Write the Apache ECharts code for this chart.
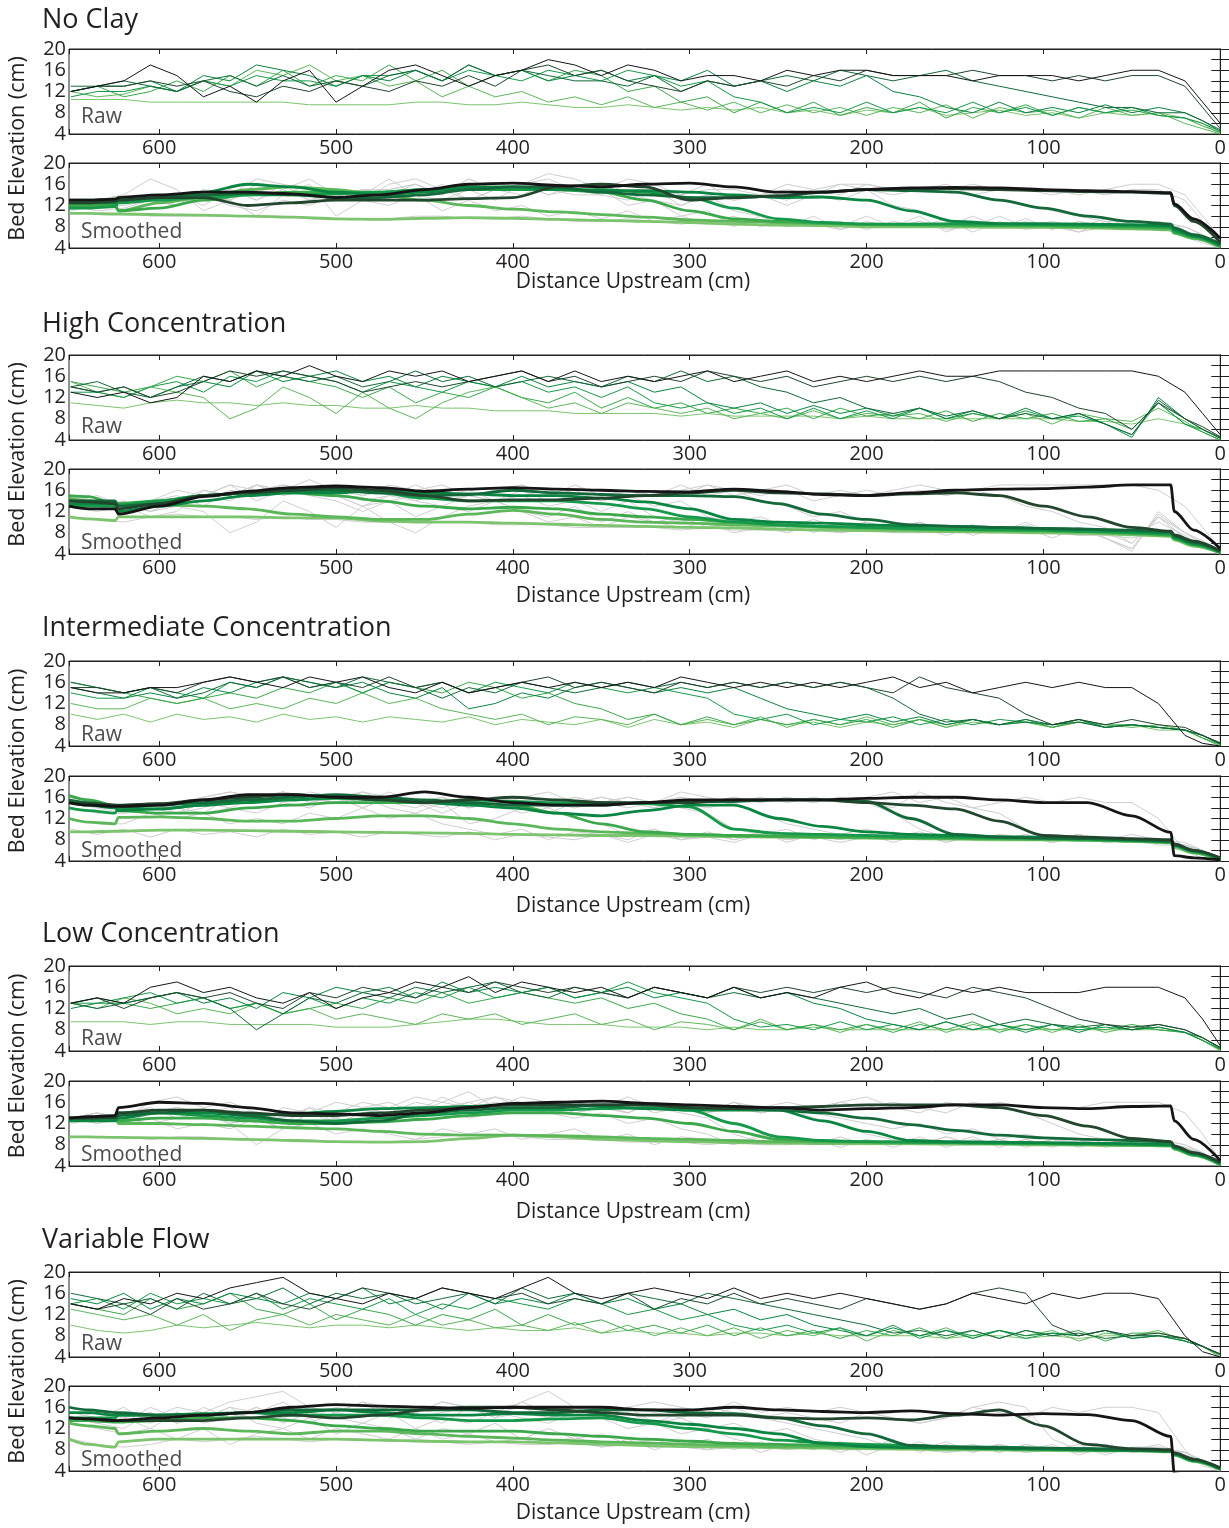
<!DOCTYPE html>
<html>
<head>
<meta charset="utf-8">
<script src="https://cdn.jsdelivr.net/npm/echarts@6/dist/echarts.min.js"></script>
<style>
  html, body { margin: 0; padding: 0; background: #ffffff; }
  #chart { width: 1229px; height: 1528px; }
</style>
</head>
<body>
<div id="chart"></div>
<script>
// Distance upstream (cm) of the sampled points
const X_SMOOTH = [651,640,625,623,600,575,550,525,500,475,450,425,400,375,350,325,300,275,250,225,200,175,150,125,100,75,50,28,26,15,0];
const X_RAW = [650,635,620,605,590,575,560,545,530,515,500,485,470,455,440,425,410,395,380,365,350,335,320,305,290,275,260,245,230,215,200,185,170,155,140,125,110,95,80,65,50,35,20,10,0];

const X_TICKS = [0,100,200,300,400,500,600];
const Y_TICKS = [4,8,12,16,20];

const PANEL_TITLES = ['No Clay','High Concentration','Intermediate Concentration','Low Concentration','Variable Flow'];

// Bed profiles, one row per survey (earliest first)
const NO_CLAY_RAW = [
  [10.5,10.5,10.5,10,10,10,10,10,10,9.5,9.5,9.5,9.5,10,10,9.5,9.5,10,9.5,9,9,9.5,9,8.5,9,8.5,9,8,8.5,7.5,8.5,8,9,7.5,8,8.5,7.5,8,7,8,7.5,8,7,6,4],
  [12,11,11.5,13,12,14,13,16,15,17,14,15,13,14,11,13,11,12,10,11,9.5,11,9,10,8.5,10,8,9.5,8,9,7.5,9,8,9.5,7,9,8,8.5,7,9,7.5,8,6,5,4],
  [12,13,11,12,14,12,15,13,16,13,15,14,17,14,16,13,15,16,14,16,15,12,13,10,11,8,10,8,10,7.5,9,8,10,7,9,8,9.5,7.5,9,8,8.5,7.5,7,5.5,4.3],
  [11,12,12,13,12,14,13,15,14,14,13,15,15,16,14,16,15,14,16,15,14,16,15,13,14,11,10,8,9,8,10,8,9,8,10,8,9,7.5,9,8,9,7.5,7,6,4.5],
  [12,13,13,14,12,15,14,17,16,15,13,15,14,16,14,17,15,16,14,15,16,14,15,14,16,13,14,12,14,13,15,12,11,9,8,10,8,9,8,9.5,8,9,8,6.5,4.5],
  [13,13,14,13,12,14,15,13,15,13,14,13,15,16,14,17,15,16,15,14,14,13,15,12,14,13,14,15,14,16,15,14,15,16,14,13,12,11,10,9,9,8,8,6.5,4.8],
  [12,13,13,14,13,14,12,11,13,12,14,13,12,14,13,15,13,16,17,15,16,14,13,12,14,13,14,13,15,14,16,15,15,15,16,15,15,14,15,14,15,15,13,9,5],
  [12,13,14,17,15,11,13,10,14,16,10,13,16,17,15,13,15,16,18,17,15,17,16,14,15,15,14,16,15,16,16,15,15,15,14,15,15,15,14,15,16,16,14,10,6]
];
const NO_CLAY_SMOOTH = [
  [10.5,10.5,10.4,10.4,10.3,10.2,10,9.8,9.5,9.4,9.6,9.7,9.6,9.4,9.2,9,8.8,8.5,8.3,8.2,8,8,8,7.9,7.9,7.8,7.6,7.4,6.8,5.8,4.2],
  [11.5,11.8,12,11,12.5,13.5,15,15.5,15,14,13,12,11.3,10.8,10.3,9.8,9.3,9,8.8,8.6,8.4,8.3,8.3,8.2,8.1,8,7.8,7.6,6.8,5.8,4.2],
  [12,12,12.3,11,11.5,13,14,14.5,14.5,14.5,15,15,15,15,14.5,13,11,9.5,9,8.7,8.5,8.4,8.3,8.2,8.2,8.1,8,7.8,7,6,4.3],
  [11.5,11.5,11.8,12.5,13,13.5,14,14,14.2,14.5,15,15.2,15,15,15,14.5,13.5,11.5,9.5,8.8,8.5,8.5,8.6,8.5,8.4,8.3,8.2,8,7.2,6.2,4.5],
  [12.5,12.5,12.5,13,13.5,14.5,16,15.5,14.5,14,14.5,15.5,15.5,15,14.8,14.8,14.5,14,13.5,13.6,13,11,9,8.6,8.6,8.5,8.4,8.2,7.5,6.3,4.5],
  [13,13,13.2,13,13.5,14,14.3,14,13.5,13.5,14,15,15.5,15.5,14.5,14,13.5,13.5,13.8,14.5,15,14.8,14.5,13,11.5,10,9,8.5,7.8,6.5,4.8],
  [12.5,12.5,12.8,13,13.5,13.5,12,12.5,13,13,13,13.3,13.5,15.5,16,15.5,13,13.5,13.8,14.5,15,15.2,15.2,15,14.8,14.6,14.5,14.3,12,9,5],
  [13,13,13.2,13.5,14,14.5,14.5,14.2,13.5,14,15,16,16.2,15.8,15.5,16,16.2,15.5,14.5,14.5,15,15.3,15.4,15.3,15,14.8,14.6,14.4,12.3,9.5,5.8]
];

const HIGH_RAW = [
  [11,10.5,10,11,11.5,11,11,10.5,11,10.5,10.5,10,10,10.5,10,10,9.5,9.5,9.5,9,9,9,9,8.5,9,8.5,8.5,8.5,8.5,8,8.5,8,8,8,8,8,8,8,7.5,7.5,7,8,7,5.5,4],
  [15,13,12,14,13,12,8,10,14,12,9,13,10,8,11,13,14,12,10,11,9,11,10,9,10,8,9,8,9.5,8,9,8.5,9,7.5,9,8,9,7,9,8,7.5,10,7.5,5.5,4],
  [15,14,13,14,16,15,17,14,16,15,14,12,14,11,13,12,14,12,11,13,10,12,10,11,9,10,9,10,8,10,8.5,9,8,9.5,7.5,9,8,9,7.5,8,6,11,7,5.5,4],
  [13,13,12,14,15,13,16,15,17,16,15,13,15,14,13,15,14,15,13,14,12,14,11,10,11,9,10,8,10,8,9.5,8,10,8,9,8,9.5,8,8.5,7,5,11,7,6,4.3],
  [14,13,14,12,14,15,14,17,15,16,17,15,16,14,16,15,14,16,14,15,14,15,13,14,11,10,11,9,10.5,9,10,8.5,10,8,9.5,8,10,8,9,7,4.5,12,8,6,4.3],
  [14,15,13,12,14,16,15,17,16,15,16,14,15,17,15,16,14,15,16,15,14,16,15,17,15,16,14,13,11,12,10,9,10,8.5,9.5,8,9,8,9,7,5,11.5,8,6,4.5],
  [14,13,14,12,13,15,17,16,17,16,15,13,14,15,14,15,16,17,15,16,14,15,16,15,17,16,15,16,14,15,16,15,16,15,16,15,13,12,10,9,6,11,8,6.5,4.6],
  [13,12,13,11,12,16,15,17,16,18,16,15,17,16,17,15,16,17,15,17,15,16,15,16,17,15,16,17,15,16,15,16,17,16,16,17,17,17,17,17,17,16,13,9,5]
];
const HIGH_SMOOTH = [
  [11,10.6,10.3,11,11,11,11,10.8,10.8,10.2,10,10,9.8,9.6,9.4,9.2,9,8.9,8.7,8.5,8.4,8.3,8.2,8.1,8,7.9,7.6,7.3,6.6,5.5,4.2],
  [14.5,14,13,13.3,13.3,13,12.5,11.5,11,10.5,10.5,11.5,12.2,11.5,10.5,10,9.8,9.5,9.3,9,8.8,8.6,8.5,8.4,8.3,8.1,7.8,7.5,6.8,5.6,4.3],
  [15,14.8,13.5,13.5,14,15,15.5,15.5,15,14,13,12.5,12.8,12.5,11.5,11,10.5,10,9.5,9.2,9,8.8,8.6,8.5,8.4,8.2,8,7.6,6.9,5.8,4.3],
  [13,13,13,13.2,14,15,15.5,16,16,15.5,14.5,14,14,14,13.5,12.5,11,10,9.5,9.2,9,8.8,8.7,8.6,8.5,8.3,8,7.8,7,5.8,4.4],
  [13.5,13.5,13.5,12,13,14,15,15.5,15.5,16,15.5,15.3,15,15,14.5,13.8,12.5,10.5,10,9.8,9.5,9.3,9.2,9,8.8,8.6,8.3,8,7.2,6,4.4],
  [14,14,14,13,13.5,15,15.5,16,16,15.5,15,15.2,16,15.5,15.2,15,15,14.8,13.5,11.5,10.5,9.5,9.2,9,8.8,8.7,8.5,8.2,7.4,6.2,4.5],
  [14,13.8,13.5,12.5,13.5,15,15.5,16,16.5,16,15,14,14.2,14.2,14.5,15,15.5,16,15.5,15.3,15,15.3,15.5,15,13,11,9,8.3,7.6,6.4,4.6],
  [13,12.5,12.5,11.5,13,14.8,15.8,16.5,16.8,16.5,15.8,16.2,16.5,16.2,16,15.8,15.7,16.2,15.8,15.2,15,15.5,16,16.2,16.3,16.6,17,17,12,8.5,5]
];

const INTERMEDIATE_RAW = [
  [10,9,10,8.5,10,9,9.5,8.5,10,9,9.5,8.5,9.5,9,8.5,9.5,8,9,8.5,8,9,7.5,9,8,8.5,7.5,9,8,8.5,7.5,8.5,8,9,7.5,8.5,8,8.5,7.5,8.5,7.5,8,7,7,5.5,4],
  [12,11,11,13,12,13,11,12,11,13,12,14,12,13,11,10,9,10,8,9.5,9,8,10,8,9,8,9.5,7.5,9,8,9.5,8,9,7.5,9,8,8.5,7.5,9,8,7.5,8,7,5.5,4],
  [16,15,14,13,12,13,14,13,15,14,16,14,16,15,14,16,15,13,14,12,11,9,10,8,9.5,8,9,8,9,8,9,7.5,9,8,9,8,9,7.5,8.5,8,8,7.5,7,5.5,4.3],
  [14,13,13,15,14,13,16,15,17,15,16,14,16,15,16,14,16,15,14,16,15,14,15,14,13,10,9,10,8,9,8.5,9.5,8,9,8,9,8.5,8,9,7.5,8,7.5,7,6,4.3],
  [15,14,13,14,13,15,14,16,17,16,15,16,14,13,15,11,12,14,13,15,16,15,14,15,14,15,13,11,10,9,10,8.5,9.5,8,9,8,8.5,8,9,7.5,8,7.5,7,6,4.4],
  [16,15,14,15,13,14,16,15,17,16,15,17,16,15,13,15,14,16,15,14,15,16,15,16,15,16,15,16,15,16,15,13,10,8.5,9,8,9,8,8.5,7.5,8,7.5,7,6,4.5],
  [15,15,14,15,14,16,17,16,17,15,16,15,17,15,16,14,15,16,17,15,16,15,14,16,15,16,15,16,15,16,15,14,17,15,14,13,10,8,9,8,9,8,7.5,6,4.6],
  [15,14,14,15,15,16,17,16,15,17,16,17,15,14,16,14,15,16,15,16,15,16,15,17,16,15,16,15,16,15,16,17,15,16,14,15,16,15,16,15,15,12,6,4.5,4]
];
const INTERMEDIATE_SMOOTH = [
  [9.5,9.5,9.6,9.6,9.8,9.8,9.7,9.6,9.5,9.4,9.3,9.2,9,8.9,8.8,8.8,8.7,8.6,8.5,8.4,8.3,8.2,8.1,8,8,7.9,7.7,7.4,6.5,5.5,4.2],
  [12,11.3,11,12.2,12.3,12,11.5,11.5,12,12.5,12.5,12,11,10,9.5,9.2,9,8.8,8.6,8.5,8.4,8.3,8.3,8.2,8.1,8,7.8,7.5,6.8,5.6,4.2],
  [16.3,15.5,14.5,13.5,13,13,14,14.5,15,15,15,15,14.5,13,11,9.5,9,8.8,8.7,8.6,8.5,8.4,8.3,8.2,8.1,8,7.8,7.5,6.8,5.7,4.3],
  [14,13.5,13,14,13.8,14.5,15.5,15.5,15.8,15.5,15,15.5,15.2,15,15,14.8,14.2,10,9.2,9,8.8,8.6,8.5,8.4,8.3,8.1,7.9,7.6,7,5.8,4.3],
  [15,14.5,14,13.5,13.8,14.5,15,15.5,16,15.5,15,14.5,14,13,12.5,13.5,14.5,14.5,12,10.5,9.5,9,8.8,8.6,8.5,8.3,8,7.7,7,5.8,4.4],
  [15.5,15,14.5,14.3,14.5,15,15.5,16,16.5,16,15.5,15,14.5,14.5,14.5,15,15.2,15.2,15.5,15.5,15.2,12,9,8.5,8.3,8.2,8,7.8,7.1,6,4.5],
  [15,14.8,14.5,14.5,14.8,15.5,16,16.5,16,15.5,15,15.5,16,15.5,15,15,15,15.5,15.5,15.5,15,14.5,13.8,11.5,8.8,8.5,8.2,8,7.2,6,4.6],
  [15,14.5,14.3,14.3,14.5,15.5,16.5,16.5,16,16,17,16,15,14.5,14.5,15,15.5,15.5,15.5,15.5,15.8,16,16,15.5,15,15,12.5,9.4,5,4.6,4.2]
];

const LOW_RAW = [
  [9.5,9.5,9.5,9,9.5,9.5,9,9,9,9,8.5,8.5,8.5,9,9.5,10,10,9.5,9,9,9,8.5,8.5,8.5,8,8.5,8,8,8.5,8,8,8,8,8,8,8,8,8,8,8,8,8,7.5,6,4],
  [13,12,14,13,11,12,11,13,11,12,10,11,10,9,11,10,11,9,10,11,9,10,8,9.5,9,8,10,8,9,7.5,9,8,9.5,7.5,9,8,9,7.5,9,7.5,8.5,8,7.5,6,4.2],
  [13,14,13,12,13,14,12,13,11,12,13,12,14,13,15,13,14,15,14,13,14,12,13,11,10,8,9.5,8,9,8,9,7.5,9,8,9.5,7.5,9,8,8.5,8,9,8,7.5,6,4.3],
  [13,13,14,15,13,14,12,13,11,14,12,14,13,15,14,16,14,15,16,14,15,17,15,14,13,10,8.5,9,8,9.5,8,9,8,9.5,8,9,7.5,9,8,8.5,8,8.5,7.5,6,4.4],
  [12,13,13,14,15,13,14,12,15,14,16,15,16,14,17,15,16,15,16,14,15,16,14,15,14,16,14,15,13,12,10,9,8,9.5,8,9,8,9,7.5,9,8,8.5,7.5,6.5,4.5],
  [13,12,13,14,15,14,12,8,11,14,13,15,14,16,15,16,17,15,14,16,15,14,16,15,14,15,14,15,14,13,12,11,12,10,11,9,10,9,8.5,9,8,9,8,6.5,4.6],
  [13,14,12,14,15,14,15,13,12,15,14,16,15,14,16,15,17,16,15,16,15,14,16,15,14,16,15,16,15,16,15,16,15,14,16,15,14,12,10,9,8.5,9,8,6.5,4.7],
  [13,14,13,16,17,15,16,14,13,15,12,14,15,17,16,18,15,17,16,15,16,14,16,15,14,16,14,15,14,16,17,15,14,16,15,16,15,15,15,16,16,16,14,10,5]
];
const LOW_SMOOTH = [
  [9.5,9.5,9.4,9.4,9.3,9.2,9,8.8,8.6,8.5,8.6,9.2,9.8,9.5,9,8.8,8.6,8.4,8.3,8.2,8.2,8.2,8.1,8.1,8,8,7.9,7.8,7.2,6,4.2],
  [12.5,12.8,13,12,12,11.8,11.5,11.2,11,10.5,10,9.8,9.8,9.7,9.5,9.2,9,8.8,8.6,8.5,8.4,8.3,8.3,8.2,8.1,8,7.9,7.8,7.2,6,4.3],
  [13,13.2,13.5,12.5,13,13,12.5,12,12,12.3,12.8,13.5,14,14,13.5,13,12,10.5,9,8.7,8.6,8.5,8.4,8.3,8.2,8.1,8,7.9,7.3,6.1,4.3],
  [13,13,13,14,14,13.5,13,12.5,12.5,13,13.5,14,14.5,14.5,14.8,15,14.5,12,9.5,8.8,8.6,8.5,8.4,8.3,8.3,8.2,8.1,8,7.4,6.2,4.4],
  [12.5,12.5,12.5,13,14,14,13.5,13.8,14.3,14.8,15,15.2,15.5,15.5,15.2,14.8,14.5,14.5,14.5,12.5,10.5,8.8,8.6,8.5,8.4,8.3,8.2,8,7.5,6.3,4.5],
  [13,13,13,13.5,14,14.5,13.5,12.5,12,12.5,14,14.5,15,15,15.5,15.5,15,14.8,14.5,14,13,11.8,10.7,9.8,9.3,9,8.8,8.5,7.6,6.4,4.6],
  [13,13,13.2,14,14.5,14.5,14,13.5,13.5,14,14.5,15,15.5,15.5,15.5,15.5,15,14.8,15,15.2,15.5,15.5,15.5,15,13.5,11.5,9.2,8.6,7.8,6.5,4.7],
  [13,13.3,13.5,15,16,15.8,15,14,13.8,13.5,14,15,15.8,16,16.2,15.8,15.5,15.2,15,14.5,14.8,15,15.5,15.5,15,14.8,15.2,15.3,12.5,9,5]
];

const VARIABLE_RAW = [
  [10,9,8.5,9,10,9.5,10,10.5,10,9.5,10,10,9.5,10,9.5,9,9.5,9,9,9.5,8.5,9,8.5,8.5,8,8.5,8.5,8,8.5,8,8,8,8,7.5,8,8,7.5,8,7.5,8,8,8,7.5,6,4],
  [13,12,11,12,10,12,9,11,12,10,12,11,10,12,10,11,9.5,10,9,10.5,8.5,10,8,9.5,8,9.5,7.5,9,8,9.5,7,9,8,9.5,7.5,9,8,9,7,8.5,8,9,7,6,4],
  [14,13,12,15,13,14,16,13,12,14,11,13,12,10,12,11,13,10,12,10,11,9,10,8.5,10,8,9.5,8,9,7.5,9,8,9.5,7.5,9,7.5,9,8,9,7,8.5,8.5,7.5,6,4.4],
  [14,15,13,16,14,15,14,16,13,15,14,13,15,12,14,13,15,14,13,15,14,12,13,11,12,10,9,10,8.5,9.5,8,10,7.5,9,8,9,7.5,8.5,8,9,7.5,8,7,6,4.4],
  [15,14,16,13,15,14,16,15,14,16,15,17,14,15,13,16,14,15,14,16,14,15,13,14,12,13,11,12,10,9,8,9.5,8,9,7.5,9,8,8.5,8,9,7.5,8,7,6,4.5],
  [16,15,14,15,13,16,14,15,17,14,16,15,16,14,15,16,14,17,15,16,14,16,15,14,16,15,14,13,12,11,10,8.5,9,8,9,7.5,9,8,8.5,7.5,8,8,7.5,6,4.5],
  [14,13,14,12,15,13,14,16,14,13,15,17,16,15,17,16,15,16,14,15,14,16,13,15,14,16,14,15,14,13,15,14,13,14,16,17,16,10,8,9,8,8.5,7.5,6,4.6],
  [14,13,15,14,16,15,17,18,19,16,15,14,16,15,17,16,15,17,19,16,15,16,17,16,15,17,15,16,15,16,15,14,13,14,16,15,14,16,15,16,16,15,8,5,4]
];
const VARIABLE_SMOOTH = [
  [10,9,8.5,9.5,10,10,10,10,10,9.8,9.6,9.5,9.5,9.3,9,8.8,8.6,8.5,8.4,8.3,8.2,8.1,8,8,7.9,7.8,7.8,7.6,7,5.8,4.3],
  [13,12.5,12,11,11.5,12,11.5,11,11.5,11.5,11,10.5,10.2,9.8,9.5,9.3,9,8.8,8.6,8.5,8.4,8.3,8.2,8.1,8,8,7.9,7.7,7,5.8,4.3],
  [13.5,13.5,13.2,13.2,13.5,14,14,13.5,12.5,12,11.5,11.5,11.5,11,10.5,10,9.6,9.2,9,8.8,8.6,8.5,8.4,8.2,8.1,8,7.9,7.7,7.1,5.9,4.4],
  [14,14,14,14.5,14.5,14.5,15,14.5,14.5,14.5,14,13.5,13.5,13.8,14,13,12,11,9.8,9.3,9,8.8,8.6,8.5,8.3,8.2,8,7.8,7.2,6,4.4],
  [15,15,14.5,14.5,14.5,14.8,15,15,15.5,15,14.5,14.5,14.8,14.5,14.5,13.5,12.8,12,11,9.2,8.6,8.4,8.3,8.2,8.1,8,7.9,7.8,7.2,6,4.5],
  [16,15.5,15,15,14.5,14.5,15,15.5,15.5,15.5,15.5,15.5,15,15,15.5,15.5,15,14.8,14,12.5,11,8.8,8.5,8.4,8.3,8.2,8,7.8,7.3,6.2,4.5],
  [14,13.8,13.5,13.5,13.5,13.5,14,14.5,14,14.5,15.5,16,16,15.5,15,14.5,14.5,14.5,14,13.8,14,13.6,14.5,15.5,12.5,9,8.2,8,7.4,6.2,4.6],
  [14,13.8,13.5,13.5,14,14.5,15,16,16.5,16.2,16,15.8,16,16,16,15.5,15.5,16,15.5,15.2,15,15.3,14.8,14.5,14.8,14.6,13.5,10.5,3.5,3,2.5]
];

const PANEL_RAW = [NO_CLAY_RAW, HIGH_RAW, INTERMEDIATE_RAW, LOW_RAW, VARIABLE_RAW];
const PANEL_SMOOTH = [NO_CLAY_SMOOTH, HIGH_SMOOTH, INTERMEDIATE_SMOOTH, LOW_SMOOTH, VARIABLE_SMOOTH];

// ---- styling and layout ----
const RUN_COLORS = ['#7cc46e','#5cb65a','#3aa84b','#16994a','#0a8542','#13693a','#22452e','#151515'];
const RAW_GREY = '#cfcfcf';
const INK = '#231f20';
const FONT = '"Open Sans", "Noto Sans", sans-serif';
const X_MAX = 651;

const GRID_LEFT = 69, GRID_RIGHT = 7, GRID_H = 85;
const RAW_TOP = [49, 355, 661, 966, 1272];
const SMOOTH_TOP = [163, 469, 776, 1081, 1386];
const TITLE_Y = [20, 324, 628, 934, 1240];
const XNAME_Y = [282, 596, 906, 1212, 1513];
const RAW_TAG_Y = [117, 427, 735, 1039, 1344];
const SMOOTH_TAG_Y = [232, 543, 851, 1155, 1460];

const grids = [], xAxes = [], yAxes = [], series = [], texts = [];

function addGrid(top) {
  const g = grids.length;
  grids.push({ left: GRID_LEFT, right: GRID_RIGHT, top: top, height: GRID_H,
               show: true, borderColor: INK, borderWidth: 1, backgroundColor: 'transparent' });
  const xBase = {
    type: 'value', gridIndex: g, inverse: true, min: 0, max: X_MAX, interval: 100,
    axisLine: { show: true, lineStyle: { color: INK, width: 1 } },
    axisTick: { show: true, inside: true, length: 5, lineStyle: { color: INK, width: 1 } },
    splitLine: { show: false }
  };
  xAxes.push(Object.assign({}, xBase, {
    position: 'bottom',
    axisLabel: { show: true, margin: 4, fontSize: 20, fontFamily: FONT, color: INK,
                 showMinLabel: true, showMaxLabel: true,
                 formatter: v => X_TICKS.includes(v) ? String(v) : '' }
  }));
  xAxes.push(Object.assign({}, xBase, { position: 'top', axisLabel: { show: false } }));
  const yBase = {
    type: 'value', gridIndex: g, min: 4, max: 20, interval: 2,
    axisLine: { show: true, lineStyle: { color: INK, width: 1 } },
    axisTick: { show: true, inside: true, length: 9, lineStyle: { color: INK, width: 1 } },
    splitLine: { show: false }
  };
  yAxes.push(Object.assign({}, yBase, {
    position: 'left',
    axisLabel: { show: true, margin: 3, fontSize: 20, fontFamily: FONT, color: INK,
                 showMinLabel: true, showMaxLabel: true,
                 formatter: v => Y_TICKS.includes(v) ? String(v) : '' }
  }));
  yAxes.push(Object.assign({}, yBase, { position: 'right', axisLabel: { show: false } }));
  return g;
}

function addLine(g, xs, ys, color, width, z, smooth) {
  series.push({
    type: 'line', xAxisIndex: 2 * g, yAxisIndex: 2 * g,
    data: xs.map((x, i) => [x, ys[i]]),
    symbol: 'none', showSymbol: false, silent: true, clip: true,
    smooth: smooth || false, smoothMonotone: smooth ? 'x' : undefined,
    lineStyle: { color: color, width: width, join: 'round' },
    z: z
  });
}

function addText(x, y, text, size, color, align, rotate) {
  const el = {
    type: 'text', x: x, y: y, silent: true,
    style: { text: text, font: size + 'px ' + FONT, fill: color,
             textAlign: align, textVerticalAlign: 'middle' }
  };
  if (rotate) el.rotation = rotate;
  texts.push(el);
}

for (let p = 0; p < 5; p++) {
  const raw = PANEL_RAW[p], smooth = PANEL_SMOOTH[p];

  // raw profiles in run colours
  const gr = addGrid(RAW_TOP[p]);
  raw.forEach((row, i) => addLine(gr, X_RAW, row, RUN_COLORS[i], 1, 2 + i));

  // smoothed profiles over the raw ones in grey
  const gs = addGrid(SMOOTH_TOP[p]);
  raw.forEach(row => addLine(gs, X_RAW, row, RAW_GREY, 1, 1));
  smooth.forEach((row, i) => addLine(gs, X_SMOOTH, row, RUN_COLORS[i], 2.8, 10 + i, 0.3));

  addText(42, TITLE_Y[p], PANEL_TITLES[p], 27, INK, 'left');
  addText(633, XNAME_Y[p], 'Distance Upstream (cm)', 21, INK, 'center');
  addText(18, (RAW_TOP[p] + SMOOTH_TOP[p] + GRID_H) / 2, 'Bed Elevation (cm)', 21.5, INK, 'center', Math.PI / 2);
  addText(81, RAW_TAG_Y[p], 'Raw', 21, '#4d4d4d', 'left');
  addText(81, SMOOTH_TAG_Y[p], 'Smoothed', 21, '#4d4d4d', 'left');
}

const chart = echarts.init(document.getElementById('chart'), null, { renderer: 'canvas' });
chart.setOption({
  backgroundColor: '#ffffff',
  animation: false,
  grid: grids,
  xAxis: xAxes,
  yAxis: yAxes,
  series: series,
  graphic: { elements: texts }
});
</script>
</body>
</html>
